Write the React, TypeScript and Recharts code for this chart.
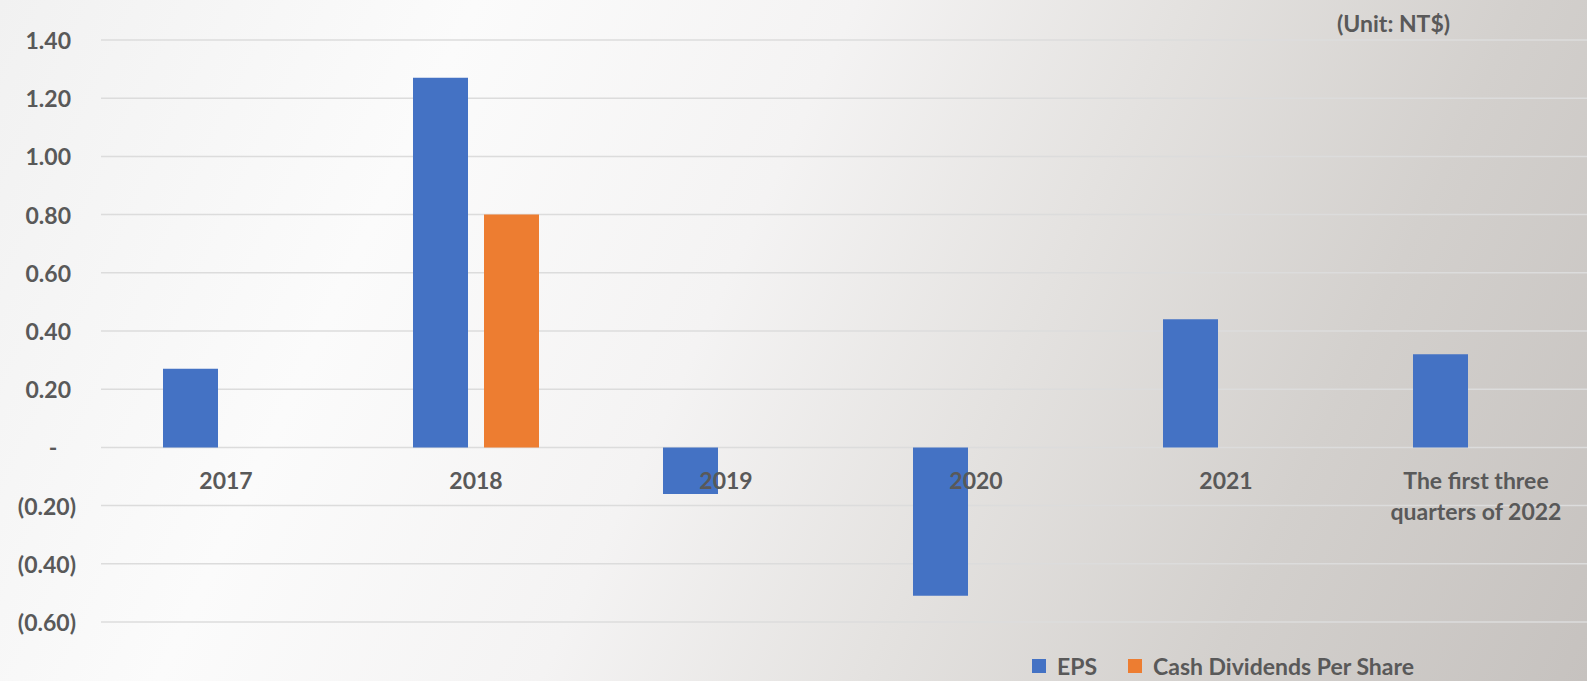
import { BarChart, Bar, XAxis, YAxis, CartesianGrid, Legend } from "recharts";

const categories = ["2017", "2018", "2019", "2020", "2021", "The first three\nquarters of 2022"];
const eps = [0.27, 1.27, -0.16, -0.51, 0.44, 0.32];
const cashDividends = [0, 0.8, 0, 0, 0, 0];
const yTicks = [-0.6, -0.4, -0.2, 0, 0.2, 0.4, 0.6, 0.8, 1.0, 1.2, 1.4];

const chartData = categories.map((name, i) => ({
  name,
  eps: eps[i],
  dividends: cashDividends[i],
}));

const TEXT = "#595959";
const FONT = "Lato, 'Open Sans', sans-serif";
const Y_MIN = -0.6;
const Y_MAX = 1.4;
const TOP = 40;
const PLOT_H = 582;
const ZERO_Y = TOP + (PLOT_H * Y_MAX) / (Y_MAX - Y_MIN);

function YTick({ x, y, payload }: any) {
  const v = payload.value as number;
  const common = { fill: TEXT, fontFamily: FONT, fontWeight: 700, fontSize: 23, dominantBaseline: "central" as const };
  if (Math.abs(v) < 1e-9) {
    return <text x={x - 18} y={y} textAnchor="middle" {...common}>-</text>;
  }
  if (v < 0) {
    return <text x={x + 5} y={y} textAnchor="end" {...common}>({Math.abs(v).toFixed(2)})</text>;
  }
  return <text x={x} y={y} textAnchor="end" {...common}>{v.toFixed(2)}</text>;
}

function XTick({ x, payload }: any) {
  const lines = String(payload.value).split("\n");
  return (
    <text x={x} y={ZERO_Y + 42} textAnchor="middle" fill={TEXT} fontFamily={FONT} fontWeight={700} fontSize={23}>
      {lines.map((l, i) => (
        <tspan key={i} x={x} dy={i === 0 ? 0 : 31}>{l}</tspan>
      ))}
    </text>
  );
}

function LegendBox() {
  const items = [
    { label: "EPS", color: "#4472C4", width: 96 },
    { label: "Cash Dividends Per Share", color: "#ED7D31", width: 300 },
  ];
  return (
    <div style={{ display: "flex", alignItems: "center", height: 28 }}>
      {items.map((it) => (
        <div key={it.label} style={{ display: "flex", alignItems: "center", width: it.width }}>
          <div style={{ width: 14, height: 14, background: it.color, marginRight: 11 }} />
          <span style={{ color: TEXT, fontFamily: FONT, fontWeight: 700, fontSize: 23, whiteSpace: "nowrap", lineHeight: "28px" }}>{it.label}</span>
        </div>
      ))}
    </div>
  );
}

export default function App() {
  return (
    <div
      style={{
        position: "absolute",
        left: 0,
        top: 0,
        width: 1587,
        height: 681,
        overflow: "hidden",
        background:
          "linear-gradient(115deg, #f1f1f1 0%, #fbfbfb 25%, #f4f3f3 45%, #e4e2e0 62%, #d3d0cd 80%, #c6c2bf 100%)",
      }}
    >
      <div
        style={{
          position: "absolute",
          left: 1337,
          top: 9,
          color: TEXT,
          fontFamily: FONT,
          fontWeight: 700,
          fontSize: 23,
          whiteSpace: "nowrap",
        }}
      >
        (Unit: NT$)
      </div>
      <BarChart
        width={1601}
        height={681}
        data={chartData}
        margin={{ top: TOP, right: 0, bottom: 681 - TOP - PLOT_H - 1, left: 0 }}
        barGap={16}
        barSize={55}
      >
        <CartesianGrid vertical={false} stroke="#dcdcdc" strokeWidth={1.5} />
        <XAxis
          dataKey="name"
          height={1}
          axisLine={false}
          tickLine={false}
          tickSize={0}
          tick={<XTick />}
          interval={0}
        />
        <YAxis
          type="number"
          domain={[Y_MIN, Y_MAX]}
          ticks={yTicks}
          width={101}
          axisLine={false}
          tickLine={false}
          tickSize={0}
          tickMargin={30}
          tick={<YTick />}
          interval={0}
        />
        <Legend
          layout="horizontal"
          verticalAlign="middle"
          align="center"
          wrapperStyle={{ left: 1032, top: 652, width: "auto" }}
          content={<LegendBox />}
        />
        <Bar dataKey="eps" name="EPS" fill="#4472C4" isAnimationActive={false} />
        <Bar dataKey="dividends" name="Cash Dividends Per Share" fill="#ED7D31" isAnimationActive={false} />
      </BarChart>
    </div>
  );
}
